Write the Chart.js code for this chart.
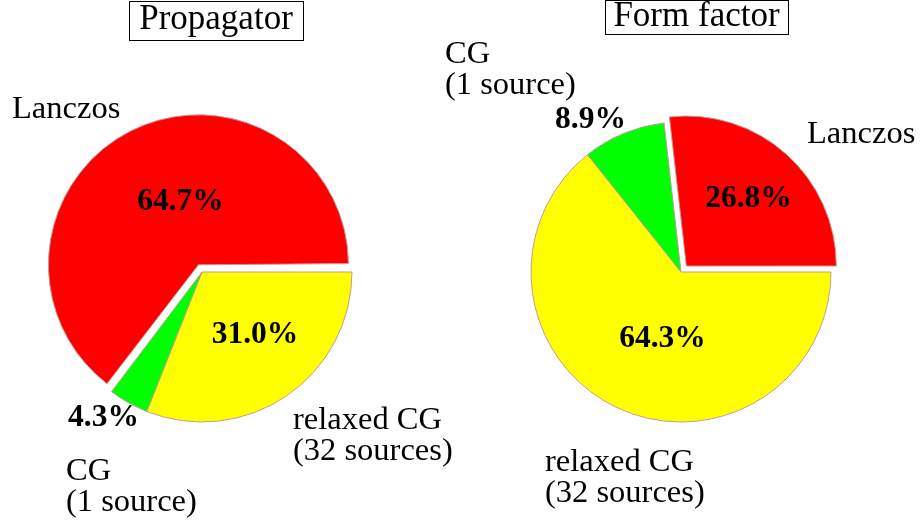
<!DOCTYPE html>
<html>
<head>
<meta charset="utf-8">
<script src="https://cdn.jsdelivr.net/npm/chart.js@4/dist/chart.umd.min.js"></script>
<style>
  body { margin: 0; background: #fff; }
  #wrap { position: relative; width: 920px; height: 525px; }
  canvas { position: absolute; left: 0; top: 0; }
</style>
</head>
<body>
<div id="wrap">
  <canvas id="propagator" width="920" height="525"></canvas>
  <canvas id="formfactor" width="920" height="525"></canvas>
</div>
<script>
// slices in drawing order (clockwise from 3 o'clock)
const methods = [['relaxed CG', '(32 sources)'], ['CG', '(1 source)'], ['Lanczos']]
const propagatorShare = [31.0, 4.3, 64.7]
const formFactorShare = [64.3, 8.9, 26.8]

const colors = ['#ffff00', '#00ff00', '#ff0000']
const explode = [0, 0, 32] // chart.js moves the arc by offset / 4
const serif = '"Liberation Serif", "Times New Roman", serif'

// label spots, relative to the pie centre: [dx, dy] of name (left/baseline) and percentage (centre/baseline)
const propagatorLayout = {
  title: { text: 'Propagator', x: 216, y: 29, box: [129, 1, 303, 40] },
  names: [[91, 157], [-136, 208], [-190, -154]],
  pcts: [[53, 71], [-98.5, 154], [-21.5, -62]]
}
const formFactorLayout = {
  title: { text: 'Form factor', x: 696.5, y: 26, box: [605, 0, 788, 34] },
  names: [[-136, 199], [-236, -209], [126, -129]],
  pcts: [[-18.5, 75], [-90.5, -144], [67.5, -65]]
}

const pieText = {
  id: 'pieText',
  // chart.js also grows an exploded arc's radius; keep it the same size as the others
  afterDatasetUpdate (chart, args) {
    args.meta.data.forEach(arc => {
      const off = (arc.options.offset || 0) / 4
      const fix = 1 - Math.sin(Math.min(Math.PI, arc.circumference))
      arc.outerRadius -= off * fix
    })
  },
  afterDraw (chart, args, opts) {
    const ctx = chart.ctx
    const area = chart.chartArea
    const cx = (area.left + area.right) / 2
    const cy = (area.top + area.bottom) / 2
    const values = chart.data.datasets[0].data
    const t = opts.layout.title

    ctx.save()
    ctx.fillStyle = '#000'
    ctx.strokeStyle = '#000'
    ctx.lineWidth = 1
    ctx.strokeRect(t.box[0] + 0.5, t.box[1] + 0.5, t.box[2] - t.box[0], t.box[3] - t.box[1])
    ctx.font = '35px ' + serif
    ctx.textAlign = 'center'
    ctx.textBaseline = 'alphabetic'
    ctx.fillText(t.text, t.x, t.y)

    ctx.font = '32.5px ' + serif
    ctx.textAlign = 'left'
    chart.data.labels.forEach((lines, i) => {
      const [dx, dy] = opts.layout.names[i]
      lines.forEach((line, k) => ctx.fillText(line, cx + dx, cy + dy + k * 31))
    })

    ctx.font = 'bold 31.5px ' + serif
    ctx.textAlign = 'center'
    values.forEach((v, i) => {
      const [dx, dy] = opts.layout.pcts[i]
      ctx.fillText(v.toFixed(1) + '%', cx + dx, cy + dy)
    })
    ctx.restore()
  }
}

const makePie = (id, values, layout, padding) => new Chart(document.getElementById(id), {
  type: 'pie',
  data: {
    labels: methods,
    datasets: [{
      data: values,
      backgroundColor: colors,
      borderColor: '#c49a9a',
      borderWidth: 1,
      offset: explode
    }]
  },
  options: {
    responsive: false,
    devicePixelRatio: 1,
    animation: false,
    rotation: 90,
    radius: 150,
    layout: { padding: padding },
    plugins: {
      legend: { display: false },
      tooltip: { enabled: false },
      pieText: { layout: layout }
    }
  },
  plugins: [pieText]
})

makePie('propagator', propagatorShare, propagatorLayout, { left: 0, right: 516, top: 19, bottom: 0 })
makePie('formfactor', formFactorShare, formFactorLayout, { left: 442, right: 0, top: 19, bottom: 0 })
</script>
</body>
</html>
